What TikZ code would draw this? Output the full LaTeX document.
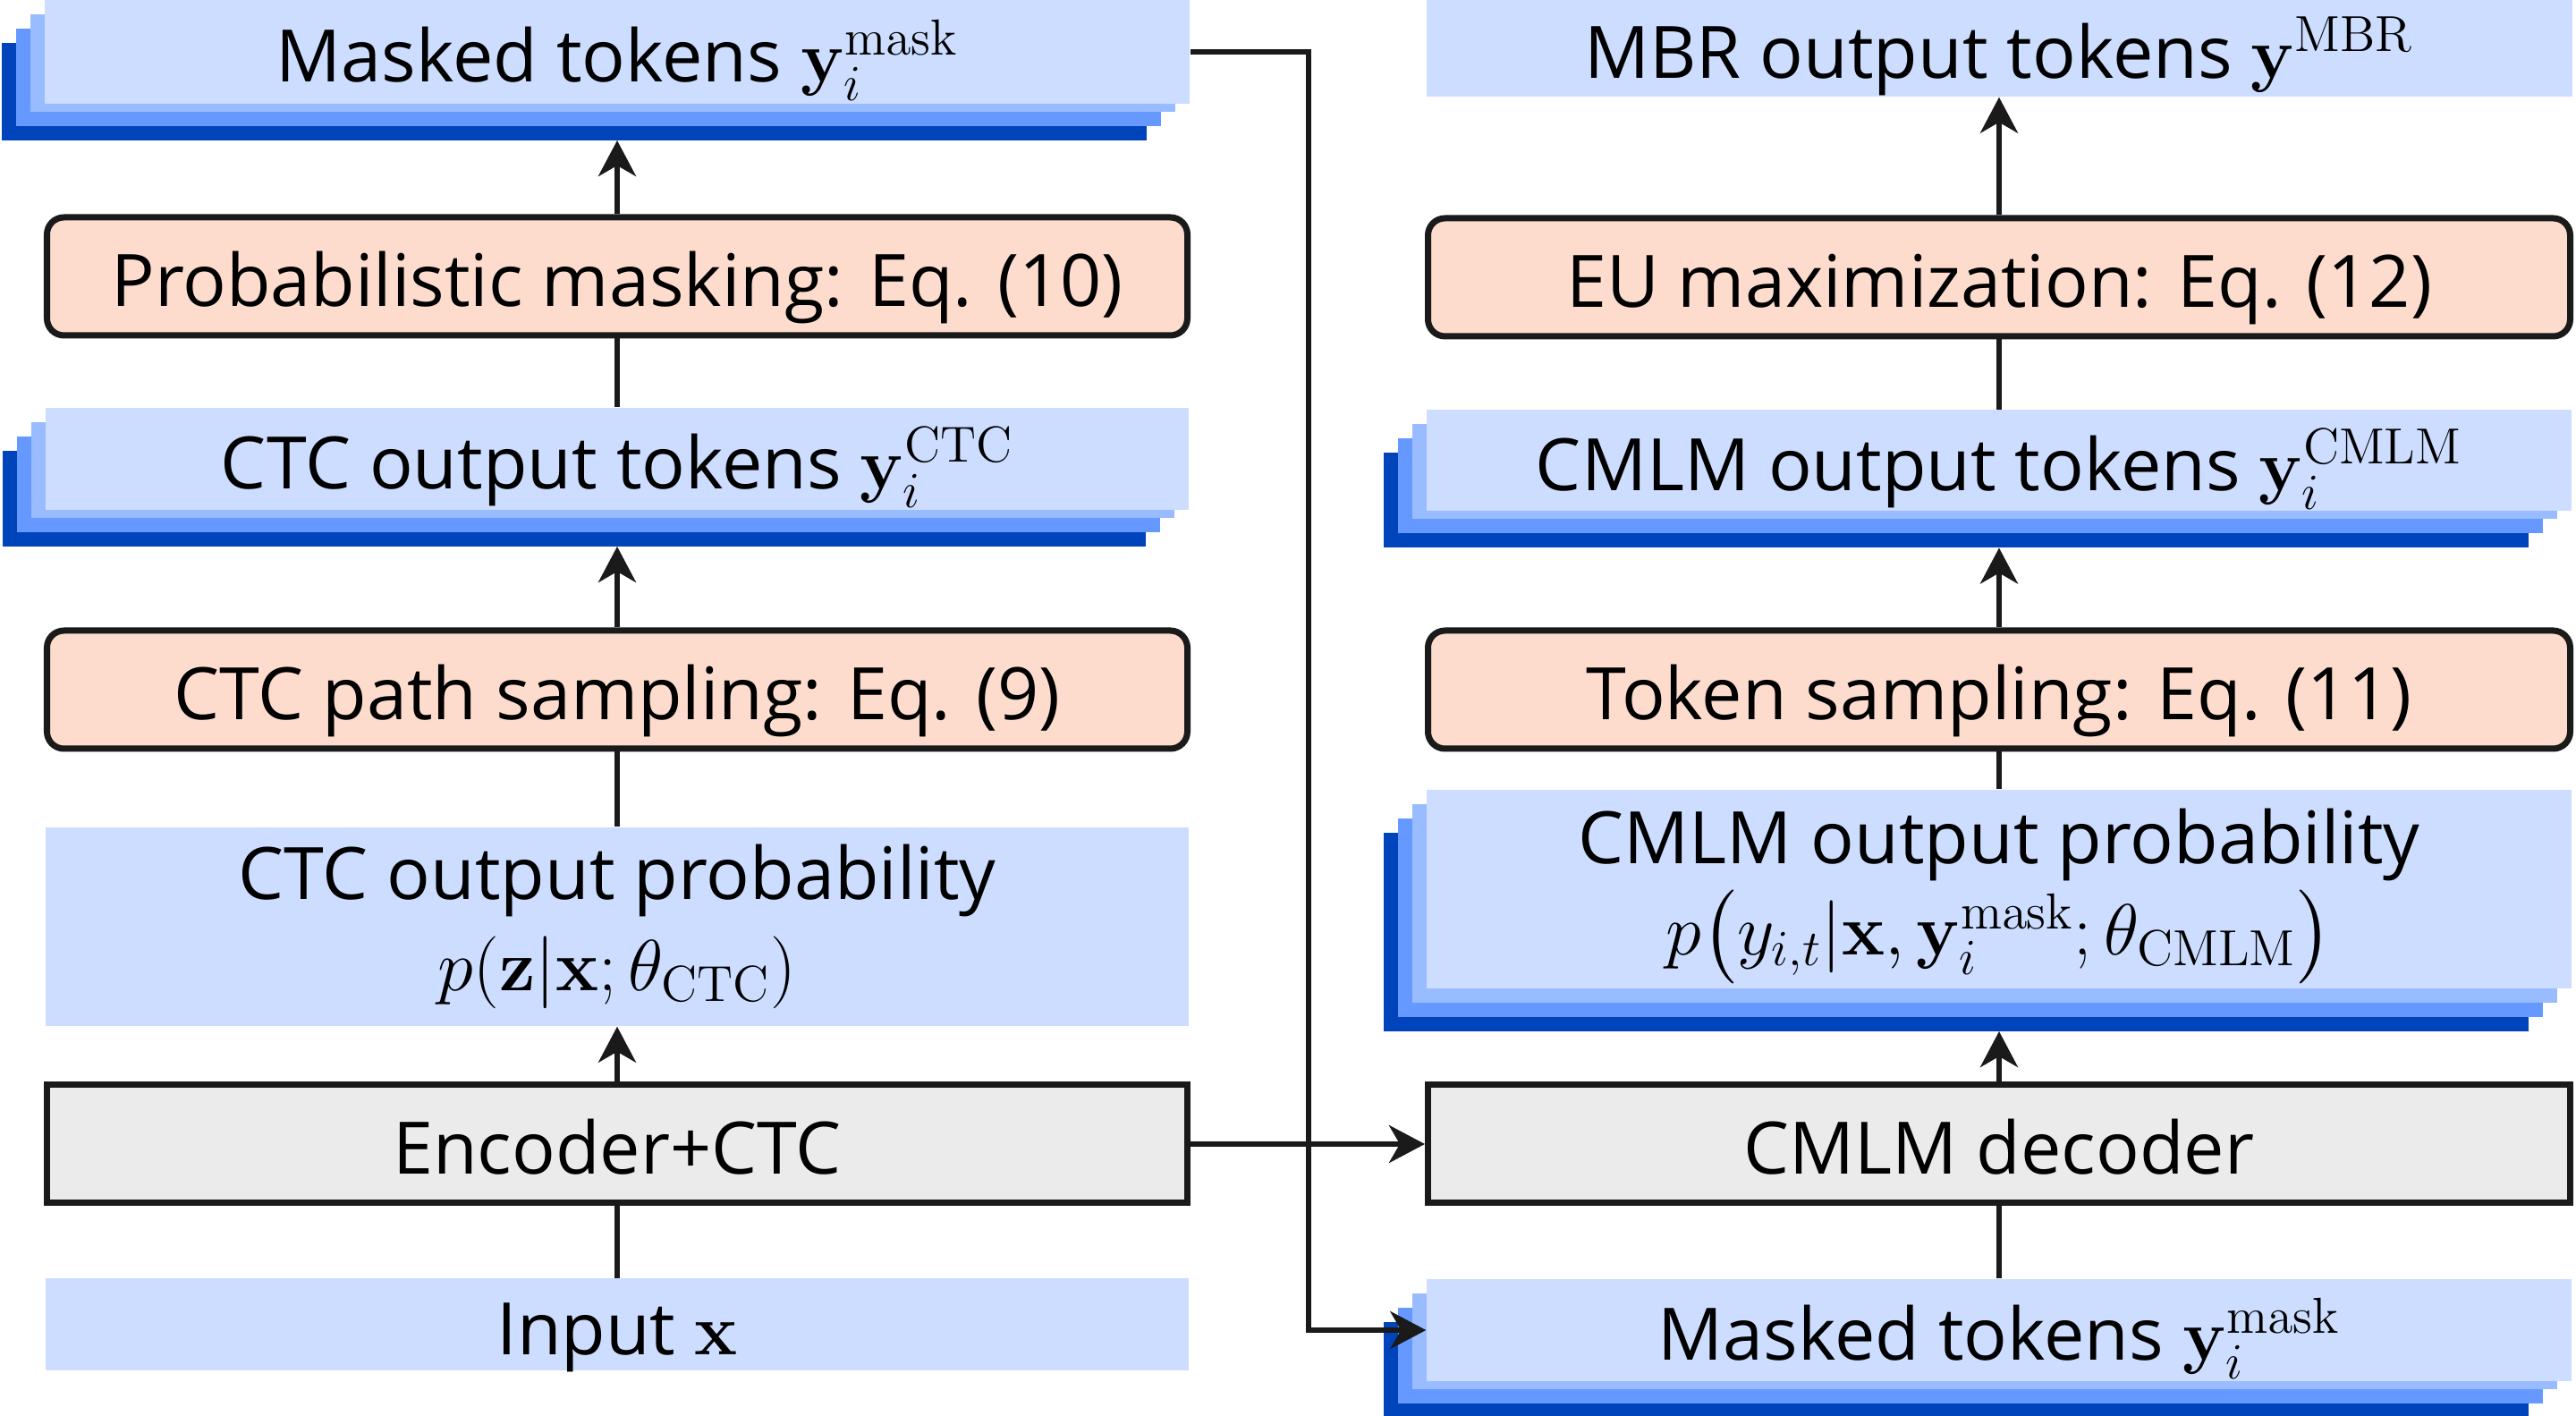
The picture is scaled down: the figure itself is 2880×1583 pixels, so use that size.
\RequirePackage{fix-cm}
\documentclass[tikz,border=0pt]{standalone}
\usepackage{amsmath}
\usepackage[no-math]{fontspec}
\setmainfont{Open Sans}
\usetikzlibrary{arrows.meta}
\definecolor{frontc}{HTML}{CCDDFF}
\definecolor{layA}{HTML}{99BBFF}
\definecolor{layB}{HTML}{6699FF}
\definecolor{layC}{HTML}{0044BB}
\definecolor{salmon}{HTML}{FDDCCD}
\definecolor{grayf}{HTML}{EBEBEB}
\definecolor{bord}{HTML}{1A1A1A}
\tikzset{
  txt/.style={font=\fontsize{23}{29}\selectfont, align=center, inner sep=0pt, text=black},
  oneline/.style={text height=0.75cm, text depth=0.09cm},
  bluebox/.style={txt, fill=frontc, draw=none},
  procbox/.style={txt, oneline, fill=salmon, draw=bord, line width=0.07cm, rounded corners=0.19cm},
  graybox/.style={txt, oneline, fill=grayf, draw=bord, line width=0.07cm},
  conn/.style={draw=bord, line width=0.06cm},
  arr/.style={conn, -{Stealth[length=0.4cm, width=0.42cm, inset=0.12cm]}},
}
% name, cx, cy, w, h, shrink, node options, text
\newcommand{\stackedbox}[8]{%
  \foreach \k/\c in {3/layC,2/layB,1/layA}{%
    \fill[\c] ({#2-#4/2-16*\k},{#3-#5/2+16*\k}) rectangle ({#2+#4/2-16*\k},{#3+#5/2+16*\k-#6});
  }
  \node[bluebox, #7, minimum width=#4*0.01cm, minimum height=#5*0.01cm] (#1) at (#2,#3) {#8};
  \coordinate (#1-b) at (#2,{#3+#5/2+48-#6});
}
\begin{document}
\begin{tikzpicture}[x=0.01cm, y=-0.01cm]
\useasboundingbox (0,0) rectangle (2880,1583);
% left column
\stackedbox{maskA}{690}{58}{1280}{116}{7}{oneline}{Masked tokens $\mathbf{y}_i^{\mathrm{mask}}$}
\node[procbox, minimum width=1275*0.01cm, minimum height=132*0.01cm] (pmask) at (690,309) {Probabilistic masking: Eq. (10)};
\stackedbox{ctctok}{690}{513}{1278}{114}{7}{oneline}{CTC output tokens $\mathbf{y}_i^{\mathrm{CTC}}$}
\node[procbox, minimum width=1275*0.01cm, minimum height=132*0.01cm] (ctcpath) at (690,771) {CTC path sampling: Eq. (9)};
\node[bluebox, minimum width=1278*0.01cm, minimum height=222*0.01cm] (ctcprob) at (690,1036) {CTC output probability\\ $p(\mathbf{z}|\mathbf{x};\theta_{\mathrm{CTC}})$};
\node[graybox, minimum width=1275*0.01cm, minimum height=132*0.01cm] (enc) at (690,1279) {Encoder+CTC};
\node[bluebox, oneline, minimum width=1278*0.01cm, minimum height=103*0.01cm] (inp) at (690,1481) {Input $\mathbf{x}$};
% right column
\node[bluebox, oneline, minimum width=1281*0.01cm, minimum height=108*0.01cm] (mbr) at (2235,54) {MBR output tokens $\mathbf{y}^{\mathrm{MBR}}$};
\node[procbox, minimum width=1277*0.01cm, minimum height=132*0.01cm] (eu) at (2235,310) {EU maximization: Eq. (12)};
\stackedbox{cmlmtok}{2235}{515}{1280}{113}{7}{oneline}{CMLM output tokens $\mathbf{y}_i^{\mathrm{CMLM}}$}
\node[procbox, minimum width=1277*0.01cm, minimum height=132*0.01cm] (toksamp) at (2235,771) {Token sampling: Eq. (11)};
\stackedbox{cmlmprob}{2235}{994}{1280}{222}{0}{}{\rule{0pt}{0.78cm}CMLM output probability\\ $p\bigl(y_{i,t}|\mathbf{x},\mathbf{y}_i^{\mathrm{mask}};\theta_{\mathrm{CMLM}}\bigr)$}
\node[graybox, minimum width=1277*0.01cm, minimum height=132*0.01cm] (dec) at (2235,1279) {CMLM decoder};
\stackedbox{maskB}{2235}{1487}{1280}{114}{7}{oneline}{Masked tokens $\mathbf{y}_i^{\mathrm{mask}}$}
% connectors left
\draw[conn] (inp.north) -- (enc.south);
\draw[arr] (enc.north) -- (ctcprob.south);
\draw[conn] (ctcprob.north) -- (ctcpath.south);
\draw[arr] (ctcpath.north) -- (ctctok-b);
\draw[conn] (ctctok.north) -- (pmask.south);
\draw[arr] (pmask.north) -- (maskA-b);
% connectors right
\draw[conn] (maskB.north) -- (dec.south);
\draw[arr] (dec.north) -- (cmlmprob-b);
\draw[conn] (cmlmprob.north) -- (toksamp.south);
\draw[arr] (toksamp.north) -- (cmlmtok-b);
\draw[conn] (cmlmtok.north) -- (eu.south);
\draw[arr] (eu.north) -- (mbr.south);
% cross connectors
\coordinate (bendA) at (1463,58);
\draw[arr] (maskA.east) -- (bendA) |- (maskB.west);
\draw[arr] (enc.east) -- (dec.west);
\end{tikzpicture}
\end{document}
